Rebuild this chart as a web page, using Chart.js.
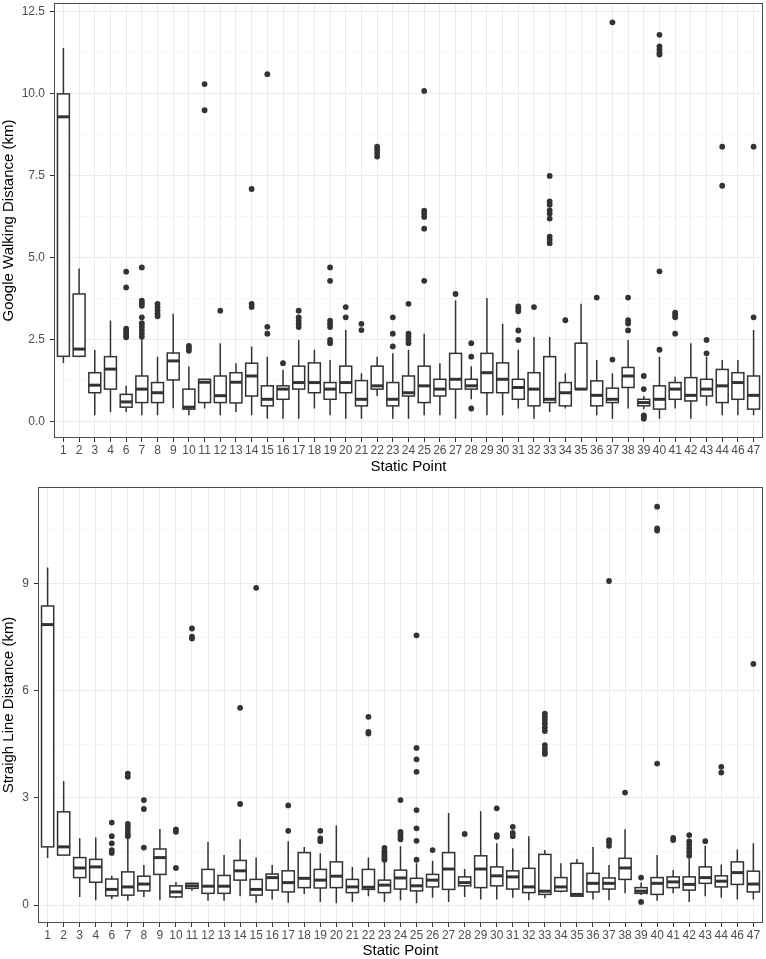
<!DOCTYPE html>
<html>
<head>
<meta charset="utf-8">
<script src="https://cdn.jsdelivr.net/npm/chart.js@4"></script>
<style>
  body { margin: 0; background: #fff; }
  canvas { position: absolute; left: 0; }
</style>
</head>
<body>
<canvas id="walkChart" width="766" height="480" style="top:0"></canvas>
<canvas id="lineChart" width="766" height="479" style="top:480px"></canvas>
<script>
// static points (5 and 45 are missing in the survey)
const points = ['1','2','3','4','6','7','8','9','10','11','12','13','14','15','16','17','18','19','20','21','22','23','24',
  '25','26','27','28','29','30','31','32','33','34','35','36','37','38','39','40','41','42','43','44','46','47'];

// Google walking distance (km): whisker low, Q1, median, Q3, whisker high
const walkLow  = [1.8,2.0,0.2,0.3,0.3,0.2,0.2,0.42,0.2,0.41,0.2,0.3,0.2,0.1,0.1,0.1,0.41,0.2,0.1,0.1,0.79,0.1,0.1,
  0.2,0.2,0.1,0.69,0.2,0.2,0.41,0.1,0.3,0.41,1.0,0.2,0.1,0.41,0.39,0.1,0.41,0.1,0.49,0.2,0.2,0.2];
const walkQ1   = [2.0,2.0,0.89,1.0,0.45,0.59,0.59,1.28,0.39,0.59,0.59,0.58,0.79,0.49,0.69,1.0,0.89,0.69,0.89,0.49,1.0,0.49,0.79,
  0.59,0.79,1.0,1.0,0.89,0.89,0.69,0.49,0.59,0.49,1.0,0.49,0.59,1.05,0.49,0.39,0.69,0.64,0.79,0.59,0.69,0.39];
const walkMed  = [9.3,2.22,1.12,1.61,0.61,1.0,0.89,1.86,0.45,1.21,0.8,1.21,1.4,0.69,1.0,1.2,1.2,1.0,1.2,0.69,1.1,0.69,0.89,
  1.1,1.0,1.3,1.1,1.5,1.3,1.05,1.0,0.69,0.89,1.0,0.81,0.69,1.4,0.59,0.69,1.0,0.81,1.0,1.1,1.2,0.81];
const walkQ3   = [10.0,3.9,1.5,1.99,0.84,1.4,1.2,2.1,1.0,1.3,1.4,1.5,1.79,1.1,1.1,1.7,1.8,1.2,1.7,1.26,1.7,1.2,1.4,
  1.7,1.3,2.09,1.3,2.09,1.8,1.3,1.5,1.99,1.2,2.4,1.25,1.03,1.66,0.69,1.1,1.2,1.35,1.3,1.6,1.5,1.4];
const walkHigh = [11.4,4.68,2.19,3.09,1.1,2.53,1.99,3.3,1.69,1.3,2.4,1.79,2.3,1.99,1.59,2.5,2.2,1.89,2.8,1.48,1.99,2.09,2.2,
  2.69,1.79,3.7,1.7,3.78,2.99,2.2,2.59,2.59,1.48,3.6,1.89,1.48,2.5,0.79,1.99,1.38,2.4,1.99,1.89,1.89,2.8];
const walkOutliers = [[],[],[],[],[4.58,4.1,2.84,2.78,2.7,2.63,2.58],[4.71,3.7,3.62,3.54,3.19,3.01,2.91,2.8,2.7,2.6],
  [3.6,3.5,3.4,3.3,3.22],[],[2.32,2.25,2.17],[10.3,9.5],[3.39],[],[7.1,3.6,3.5],[10.6,2.9,2.69],[1.79],
  [3.39,3.19,3.09,2.99,2.89],[],[4.71,4.3,3.09,2.99,2.89,2.5,2.4],[3.5,3.19],[2.99,2.8],[8.39,8.3,8.2,8.09],
  [3.19,2.69,2.3],[3.6,2.69,2.6,2.5,2.4],[10.09,6.44,6.35,6.25,5.89,4.3],[],[3.9],[2.4,1.99,0.41],[],[],
  [3.52,3.45,3.37,2.79,2.5],[3.5],[7.5,6.72,6.62,6.45,6.35,6.2,5.65,5.55,5.45],[3.1],[],[3.79],[12.18,1.9],
  [3.79,3.1,3.0,2.79],[1.4,1.0,0.2,0.15,0.1],[11.8,11.45,11.35,11.25,11.2,4.59,2.2],[3.33,3.26,3.19,2.69],[],
  [2.5,2.09],[8.39,7.2],[],[8.39,3.19]];

// straight line distance (km)
const lineLow  = [1.32,1.4,0.23,0.14,0.17,0.12,0.23,0.14,0.19,0.4,0.12,0.12,0.25,0.07,0.16,0.07,0.31,0.09,0.05,0.09,0.25,0.09,0.14,
  0.05,0.21,0.09,0.23,0.16,0.16,0.21,0.14,0.19,0.35,0.25,0.16,0.14,0.33,0.28,0.12,0.33,0.09,0.25,0.21,0.16,0.16];
const lineQ1   = [1.63,1.4,0.77,0.64,0.26,0.28,0.4,0.86,0.23,0.47,0.33,0.33,0.7,0.28,0.42,0.37,0.49,0.48,0.49,0.35,0.44,0.35,0.45,
  0.4,0.51,0.44,0.54,0.49,0.54,0.45,0.35,0.3,0.39,0.25,0.37,0.45,0.72,0.33,0.3,0.49,0.42,0.61,0.51,0.58,0.37];
const lineMed  = [7.85,1.63,1.04,1.07,0.44,0.51,0.59,1.33,0.37,0.54,0.53,0.53,0.96,0.44,0.77,0.63,0.75,0.7,0.81,0.51,0.5,0.56,0.76,
  0.54,0.7,1.01,0.63,1.01,0.82,0.79,0.51,0.39,0.51,0.3,0.61,0.61,1.04,0.39,0.61,0.65,0.58,0.77,0.67,0.91,0.59];
const lineQ3   = [8.37,2.61,1.33,1.28,0.73,0.93,0.81,1.57,0.54,0.61,1.0,0.83,1.25,0.72,0.87,0.96,1.47,1.0,1.21,0.72,1.0,0.7,0.98,
  0.75,0.86,1.47,0.79,1.38,1.07,0.96,1.03,1.42,0.77,1.17,0.89,0.76,1.31,0.49,0.77,0.79,0.79,1.07,0.82,1.21,0.95];
const lineHigh = [9.45,3.47,1.87,1.89,0.82,1.87,1.12,2.13,0.65,0.63,1.77,1.4,1.84,1.33,1.12,1.79,1.63,1.45,2.23,1.07,1.33,1.22,1.65,
  1.17,1.24,2.58,1.01,2.63,1.73,1.59,1.93,1.54,1.17,1.29,1.63,1.12,2.12,0.63,1.4,0.98,1.3,1.66,1.14,1.56,1.73];
const lineOutliers = [[],[],[],[],[2.31,1.93,1.73,1.54,1.46],[3.68,3.59,2.27,2.19,2.1,2.0,1.93],[2.94,2.69,1.61],[],
  [2.12,2.05,1.04],[7.74,7.51,7.46],[],[],[5.52,2.83],[8.88],[],[2.79,2.08],[],[2.08,1.87,1.79],[],[],
  [5.27,4.85,4.8],[1.6,1.5,1.44,1.38,1.32,1.27],[2.94,2.05,1.99,1.91,1.84],[7.55,4.4,4.08,3.73,2.66,2.15,1.8,1.27],
  [1.54],[],[1.99],[],[2.71,1.96,1.91],[2.19,2.02,1.93],[],[5.36,5.27,5.18,5.08,4.97,4.87,4.48,4.38,4.29,4.23],
  [],[],[],[9.07,1.82,1.75,1.66],[3.15],[0.77,0.09],[11.15,10.54,10.48,3.96],[1.88,1.82],
  [1.96,1.78,1.68,1.58,1.48,1.38],[1.79],[3.87,3.71],[],[6.75]];

// y ticks (minor ones carry no label)
const walkTicks = [0, 1.25, 2.5, 3.75, 5, 6.25, 7.5, 8.75, 10, 11.25, 12.5];
const walkLabels = ['0.0', '', '2.5', '', '5.0', '', '7.5', '', '10.0', '', '12.5'];
const lineTicks = [0, 1.5, 3, 4.5, 6, 7.5, 9, 10.5];
const lineLabels = ['0', '', '3', '', '6', '', '9', ''];

const FONT = "'Liberation Sans', Arial, sans-serif";
const INK = '#333333';

function boxPlugin(lo, q1, med, q3, hi) {
  return {
    id: 'boxes',
    afterDatasetsDraw(chart) {
      const { ctx, chartArea: a } = chart;
      const x = chart.scales.x, y = chart.scales.y;
      ctx.save();
      ctx.strokeStyle = INK;
      points.forEach((_, i) => {
        const cx = x.getPixelForValue(i);
        const half = x.getPixelForValue(i + 0.38) - cx;
        const yLo = y.getPixelForValue(lo[i]), yQ1 = y.getPixelForValue(q1[i]);
        const yMed = y.getPixelForValue(med[i]);
        const yQ3 = y.getPixelForValue(q3[i]), yHi = y.getPixelForValue(hi[i]);
        ctx.lineWidth = 1.5;
        ctx.beginPath();
        ctx.moveTo(cx, yHi); ctx.lineTo(cx, yQ3);
        ctx.moveTo(cx, yQ1); ctx.lineTo(cx, yLo);
        ctx.stroke();
        ctx.fillStyle = '#ffffff';
        ctx.fillRect(cx - half, yQ3, half * 2, yQ1 - yQ3);
        ctx.strokeRect(cx - half, yQ3, half * 2, yQ1 - yQ3);
        ctx.lineWidth = 3;
        ctx.beginPath();
        ctx.moveTo(cx - half, yMed); ctx.lineTo(cx + half, yMed);
        ctx.stroke();
      });
      // panel border
      ctx.lineWidth = 1;
      ctx.strokeStyle = '#4d4d4d';
      ctx.strokeRect(a.left + 0.5, a.top + 0.5, a.right - a.left - 1, a.bottom - a.top - 1);
      ctx.restore();
    }
  };
}

function makeChart(id, opt) {
  const majorY = v => opt.yTicks.indexOf(v) >= 0 && opt.yLabels[opt.yTicks.indexOf(v)] !== '';
  new Chart(document.getElementById(id), {
    type: 'scatter',
    data: {
      datasets: [{
        data: opt.outliers.flatMap((vals, i) => vals.map(v => ({ x: i, y: v }))),
        pointRadius: 2.9,
        pointHoverRadius: 2.9,
        pointBackgroundColor: INK,
        pointBorderWidth: 0
      }]
    },
    options: {
      responsive: false,
      devicePixelRatio: 1,
      animation: false,
      events: [],
      layout: { padding: { top: opt.top, right: 3, left: 0, bottom: 0 } },
      plugins: { legend: { display: false }, tooltip: { enabled: false } },
      scales: {
        x: {
          type: 'linear',
          min: -0.6,
          max: points.length - 0.4,
          afterBuildTicks: s => { s.ticks = points.map((_, i) => ({ value: i })); },
          afterFit: s => { s.height = opt.xHeight; s.paddingLeft = 0; s.paddingRight = 0; },
          ticks: {
            autoSkip: false, maxRotation: 0, minRotation: 0, padding: 1,
            color: '#4D4D4D', font: { family: FONT, size: 12 },
            callback: v => points[Math.round(v)]
          },
          grid: { color: '#EBEBEB', lineWidth: 1, tickColor: INK, tickLength: 4 },
          border: { display: false },
          title: {
            display: true, text: 'Static Point', color: '#000',
            font: { family: FONT, size: 15, lineHeight: 1 },
            padding: { top: 0, bottom: opt.titleGap }
          }
        },
        y: {
          min: opt.yMin,
          max: opt.yMax,
          afterBuildTicks: s => { s.ticks = opt.yTicks.map(v => ({ value: v })); },
          afterFit: s => { s.width = opt.yWidth; s.paddingTop = 0; s.paddingBottom = 0; },
          ticks: {
            padding: 5, color: '#4D4D4D', font: { family: FONT, size: 12 },
            callback: v => opt.yLabels[opt.yTicks.indexOf(v)]
          },
          grid: {
            color: c => (c.tick && !majorY(c.tick.value)) ? '#F3F3F3' : '#EBEBEB',
            lineWidth: c => (c.tick && !majorY(c.tick.value)) ? 0.7 : 1,
            tickColor: c => (c.tick && !majorY(c.tick.value)) ? 'rgba(0,0,0,0)' : INK,
            tickLength: 4
          },
          border: { display: false },
          title: {
            display: true, text: opt.yTitle, color: '#000',
            font: { family: FONT, size: 15, lineHeight: 1.2 },
            padding: { top: 0, bottom: 0 }
          }
        }
      }
    },
    plugins: [boxPlugin(opt.lo, opt.q1, opt.med, opt.q3, opt.hi)]
  });
}

makeChart('walkChart', {
  lo: walkLow, q1: walkQ1, med: walkMed, q3: walkQ3, hi: walkHigh, outliers: walkOutliers,
  yTicks: walkTicks, yLabels: walkLabels, yMin: -0.49, yMax: 12.77,
  yTitle: 'Google Walking Distance (km)', top: 3, yWidth: 54, xHeight: 42, titleGap: 6
});

makeChart('lineChart', {
  lo: lineLow, q1: lineQ1, med: lineMed, q3: lineQ3, hi: lineHigh, outliers: lineOutliers,
  yTicks: lineTicks, yLabels: lineLabels, yMin: -0.5, yMax: 11.7,
  yTitle: 'Straigh Line Distance (km)', top: 7, yWidth: 38, xHeight: 36, titleGap: 0.5
});
</script>
</body>
</html>
